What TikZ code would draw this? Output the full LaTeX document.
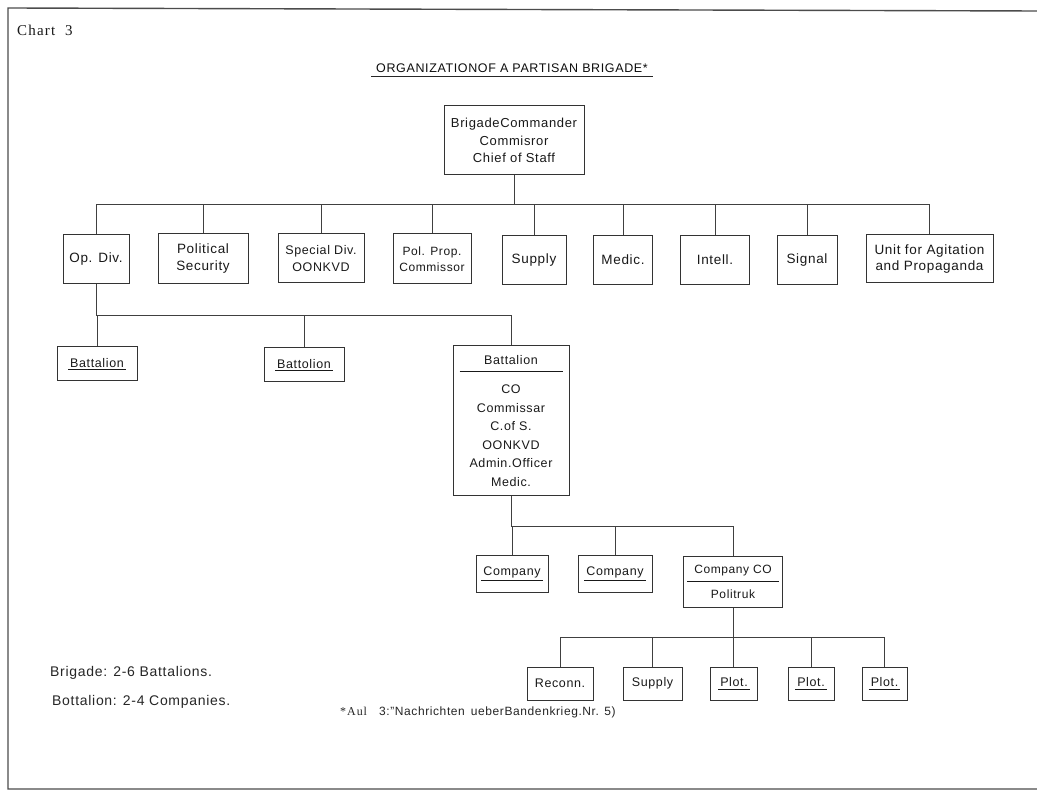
\documentclass[tikz,border=0pt]{standalone}
\usepackage{fontspec}
\setmainfont{Liberation Sans}[LetterSpace=5]
\newfontfamily\serifchart{Liberation Serif}[LetterSpace=8]
\newcommand\ulbl[2][1.5pt]{\vtop{\hbox{\,#2\,}\kern#1\hrule height 0.8pt}}
\begin{document}
\begin{tikzpicture}[x=1pt,y=-1pt,
  box/.style={draw=black!80, line width=1pt, inner sep=0pt, align=center,
    font=\fontsize{12.5}{16}\selectfont, text=black!90},
  rowone/.style={box, font=\fontsize{13.5}{16.5}\selectfont},
  conn/.style={draw=black!75, line width=0.9pt},
  frameline/.style={draw=black!70, line width=1.4pt},
  note/.style={anchor=west, inner sep=0pt, text=black!85, font=\fontsize{14}{16}\selectfont}]
\useasboundingbox (0,0) rectangle (1037,791);
\fill[white] (0,0) rectangle (1037,791);
% frame
\draw[frameline] (1037,11) -- (8,8) -- (8,789) -- (1037,789);
% headings
\node[anchor=west, inner sep=0pt, text=black!90, font=\serifchart\fontsize{15}{18}\selectfont] (chart) at (17,30) {Chart\ \ 3};
\node[inner sep=5pt, text=black!95, font=\fontsize{12.5}{15}\selectfont] (title) at (512,68) {ORGANIZATIONOF A PARTISAN BRIGADE*};
\draw[black!85, line width=1.2pt] ([yshift=-4.5pt]title.base west) -- ([yshift=-4.5pt]title.base east);
% top
\node[box, minimum width=140pt, minimum height=69pt, font=\fontsize{13}{17.5}\selectfont] (cmd) at (514,140.5) {BrigadeCommander\\Commisror\\Chief of Staff};
% row 1
\coordinate (bus1) at (0,204);
\node[rowone, minimum width=66pt, minimum height=49pt] (opdiv) at (96,259) {Op. Div.};
\node[rowone, minimum width=90pt, minimum height=50pt] (polsec) at (203,258.5) {Political\\Security};
\node[rowone, minimum width=86pt, minimum height=49pt, font=\fontsize{12.5}{16.5}\selectfont] (special) at (321,258.5) {Special Div.\\OONKVD};
\node[rowone, minimum width=78pt, minimum height=50pt, font=\fontsize{12}{16.5}\selectfont] (polprop) at (432,259) {Pol. Prop.\\Commissor};
\node[rowone, minimum width=64pt, minimum height=49pt] (supply) at (534,260) {Supply};
\node[rowone, minimum width=59pt, minimum height=49pt] (medic) at (623,260) {Medic.};
\node[rowone, minimum width=69pt, minimum height=49pt] (intell) at (715,260) {Intell.};
\node[rowone, minimum width=60pt, minimum height=49pt] (signal) at (807,260) {Signal};
\node[rowone, minimum width=127pt, minimum height=48pt] (unit) at (929.5,259) {Unit for Agitation\\and Propaganda};
\draw[conn] (cmd.south) -- (cmd.south |- bus1);
\draw[conn] (opdiv.north) -- (opdiv.north |- bus1) -| (unit.north);
\foreach \n in {polsec,special,polprop,supply,medic,intell,signal}
  \draw[conn] (\n.north) -- (\n.north |- bus1);
% row 2
\coordinate (bus2) at (0,315);
\node[box, minimum width=80pt, minimum height=34pt] (bat1) at (97,364) {\ulbl{Battalion}};
\node[box, minimum width=80pt, minimum height=34pt] (bat2) at (304,365) {\ulbl{Battolion}};
\node[box, minimum width=116pt, minimum height=150pt, font=\fontsize{12.5}{18.5}\selectfont] (bat3) at (511,421)
  {Battalion\\[-11pt]\rule{103pt}{0.8pt}\\[3pt]CO\\Commissar\\C.of S.\\OONKVD\\Admin.Officer\\Medic.};
\draw[conn] (opdiv.south) -- (opdiv.south |- bus2) -| (bat3.north);
\draw[conn] (bat1.north) -- (bat1.north |- bus2);
\draw[conn] (bat2.north) -- (bat2.north |- bus2);
% row 3
\coordinate (bus3) at (0,526);
\node[box, minimum width=72pt, minimum height=36pt] (comp1) at (512,574) {\ulbl{Company}};
\node[box, minimum width=74pt, minimum height=36pt] (comp2) at (615,574) {\ulbl{Company}};
\node[box, minimum width=99pt, minimum height=50pt, font=\fontsize{12}{16}\selectfont] (compco) at (733,582)
  {Company CO\\[-7.5pt]\rule{92pt}{0.8pt}\\[0.5pt]Politruk};
\draw[conn] (bat3.south) -- (bat3.south |- bus3) -| (compco.north);
\draw[conn] (comp1.north) -- (comp1.north |- bus3);
\draw[conn] (comp2.north) -- (comp2.north |- bus3);
% row 4
\coordinate (bus4) at (0,637);
\node[box, minimum width=66pt, minimum height=33pt] (reconn) at (560,683.5) {Reconn.};
\node[box, minimum width=59pt, minimum height=33pt] (sup2) at (652.5,683.5) {Supply};
\node[box, minimum width=47pt, minimum height=33pt] (plot1) at (734,683.5) {\ulbl[2.5pt]{Plot.}};
\node[box, minimum width=46pt, minimum height=33pt] (plot2) at (811,683.5) {\ulbl[2.5pt]{Plot.}};
\node[box, minimum width=45pt, minimum height=33pt] (plot3) at (884.5,683.5) {\ulbl[2.5pt]{Plot.}};
\draw[conn] (compco.south) -- (compco.south |- plot1.north);
\draw[conn] (reconn.north) -- (reconn.north |- bus4) -| (plot3.north);
\draw[conn] (sup2.north) -- (sup2.north |- bus4);
\draw[conn] (plot2.north) -- (plot2.north |- bus4);
% notes
\node[note] (n1) at (50,673) {Brigade: 2-6 Battalions.};
\node[note] (n2) at (52,702) {Bottalion: 2-4 Companies.};
\node[note, font=\fontsize{12}{15}\selectfont] (foot) at (340,712) {{\serifchart *Aul}\hspace{12pt}3:"Nachrichten\hspace{6pt}ueberBandenkrieg.Nr. 5)};
\end{tikzpicture}
\end{document}
